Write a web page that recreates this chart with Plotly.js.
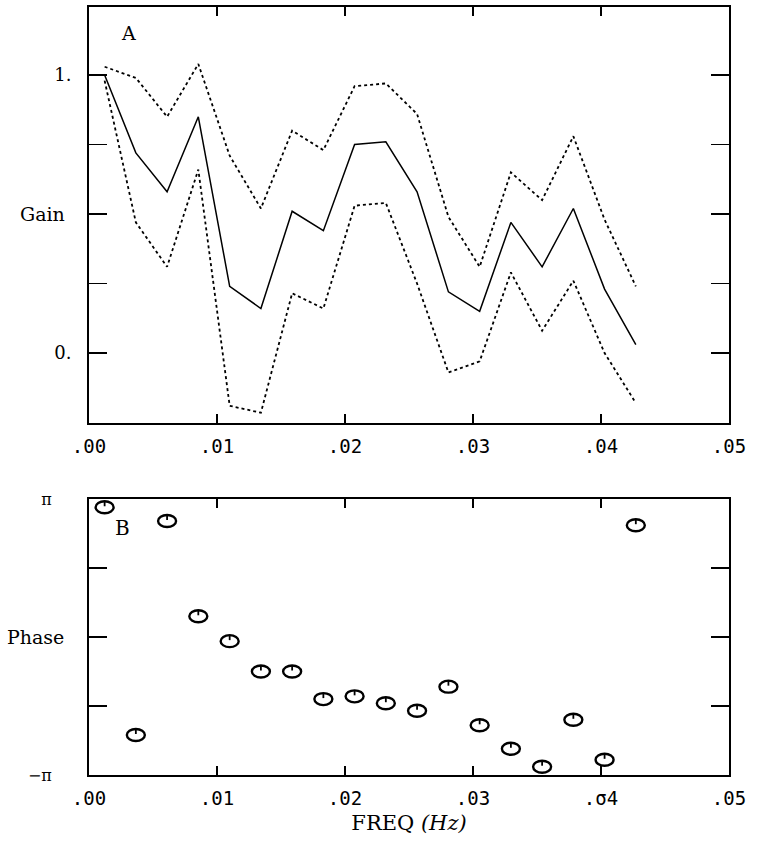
<!DOCTYPE html>
<html>
<head>
<meta charset="utf-8">
<script src="https://cdn.plot.ly/plotly-3.0.1.min.js"></script>
<style>html,body{margin:0;padding:0;background:#fff;}#chart{width:759px;height:844px;}</style>
</head>
<body>
<div id="chart"></div>
<script>
// Frequencies (Hz)
var freq = [0.00122, 0.00366, 0.00610, 0.00854, 0.01099, 0.01343, 0.01587, 0.01831, 0.02075,
            0.02319, 0.02563, 0.02808, 0.03052, 0.03296, 0.03540, 0.03784, 0.04028, 0.04272];
// Gain estimate and confidence bounds
var gain      = [1.00, 0.72, 0.58, 0.85, 0.24, 0.16, 0.51, 0.44, 0.75, 0.76, 0.58, 0.22, 0.15, 0.47, 0.31, 0.52, 0.23, 0.03];
var gainUpper = [1.03, 0.99, 0.85, 1.04, 0.71, 0.52, 0.80, 0.73, 0.96, 0.97, 0.86, 0.49, 0.31, 0.65, 0.55, 0.78, 0.48, 0.24];
var gainLower = [0.98, 0.47, 0.31, 0.66, -0.19, -0.215, 0.215, 0.16, 0.53, 0.54, 0.25, -0.07, -0.03, 0.29, 0.08, 0.26, 0.00, -0.18];
// Phase in units of pi
var phasePi = [0.94, -0.71, 0.84, 0.15, -0.03, -0.25, -0.25, -0.45, -0.43, -0.48, -0.535, -0.36, -0.64, -0.81, -0.94, -0.60, -0.89, 0.81];

var xTickVals = [0, 0.01, 0.02, 0.03, 0.04, 0.05];
var xTickTextA = ['.00', '.01', '.02', '.03', '.04', '.05'];
var xTickTextB = ['.00', '.01', '.02', '.03', '.σ4', '.05'];
var gainTickVals = [0, 0.25, 0.5, 0.75, 1];
var gainTickText = ['0.', '', '', '', '1.'];
var phaseTickText = ['−π', '', '', '', 'π'];

var PI = Math.PI;
var phase = phasePi.map(function (p) { return p * PI; });
var phaseTickVals = [-1, -0.5, 0, 0.5, 1].map(function (p) { return p * PI; });

var serif = 'DejaVu Serif, Liberation Serif, serif';
var mono = 'DejaVu Sans Mono, Liberation Mono, monospace';

var traces = [
  {x: freq, y: gainUpper, xaxis: 'x', yaxis: 'y', mode: 'lines', line: {color: '#000', width: 1.8, dash: 'dot'}},
  {x: freq, y: gain, xaxis: 'x', yaxis: 'y', mode: 'lines', line: {color: '#000', width: 1.5}},
  {x: freq, y: gainLower, xaxis: 'x', yaxis: 'y', mode: 'lines', line: {color: '#000', width: 1.8, dash: 'dot'}},
  {x: freq, y: phase, xaxis: 'x2', yaxis: 'y2', mode: 'markers', marker: {size: 16, color: 'rgba(0,0,0,0)'}}
];

// ellipse markers with a short tick, anchored at data points
var shapes = [];
freq.forEach(function (f, i) {
  shapes.push({type: 'circle', xref: 'x2', yref: 'y2', xsizemode: 'pixel', ysizemode: 'pixel',
    xanchor: f, yanchor: phase[i], x0: -9, x1: 9, y0: -6, y1: 6,
    line: {color: '#000', width: 2.4}});
  shapes.push({type: 'line', xref: 'x2', yref: 'y2', xsizemode: 'pixel', ysizemode: 'pixel',
    xanchor: f, yanchor: phase[i], x0: 0, x1: 0, y0: 6, y1: 1,
    line: {color: '#000', width: 1.8}});
});

function xAxis(anchor, text) {
  return {
    anchor: anchor, domain: [0, 1], range: [0, 0.05],
    tickmode: 'array', tickvals: xTickVals, ticktext: text,
    ticks: 'inside', ticklen: 9, tickwidth: 1.6, tickcolor: '#000',
    showline: true, linecolor: '#000', linewidth: 2, mirror: 'ticks',
    showgrid: false, zeroline: false, ticklabelstandoff: 5,
    tickfont: {family: mono, size: 19, color: '#000'}
  };
}

var layout = {
  width: 759, height: 844,
  margin: {l: 89, r: 30, t: 7, b: 69},
  paper_bgcolor: '#fff', plot_bgcolor: '#fff',
  showlegend: false,
  xaxis: xAxis('y', xTickTextA),
  xaxis2: Object.assign(xAxis('y2', xTickTextB), {
    title: {text: 'FREQ <i>(Hz)</i>', font: {family: serif, size: 21, color: '#000'}, standoff: 8}
  }),
  yaxis: {
    domain: [0.4583, 1], range: [-0.252, 1.245],
    tickmode: 'array', tickvals: gainTickVals, ticktext: gainTickText,
    ticks: 'inside', ticklen: 18, tickwidth: 1.6, tickcolor: '#000',
    showline: true, linecolor: '#000', linewidth: 2, mirror: 'ticks',
    showgrid: false, zeroline: false, ticklabelstandoff: 12,
    tickfont: {family: serif, size: 18, color: '#000'}
  },
  yaxis2: {
    domain: [0, 0.3594], range: [-PI, PI],
    tickmode: 'array', tickvals: phaseTickVals, ticktext: phaseTickText,
    ticks: 'inside', ticklen: 18, tickwidth: 1.6, tickcolor: '#000',
    showline: true, linecolor: '#000', linewidth: 2, mirror: 'ticks',
    showgrid: false, zeroline: false, ticklabelstandoff: 32,
    tickfont: {family: serif, size: 16, color: '#000'}
  },
  shapes: shapes,
  annotations: [
    {text: 'Gain', xref: 'paper', yref: 'y', x: -0.073, y: 0.5, xanchor: 'center', yanchor: 'middle',
     showarrow: false, font: {family: serif, size: 19, color: '#000'}},
    {text: 'Phase', xref: 'paper', yref: 'y2', x: -0.083, y: 0, xanchor: 'center', yanchor: 'middle',
     showarrow: false, font: {family: serif, size: 19, color: '#000'}},
    {text: 'A', xref: 'paper', yref: 'paper', x: 0.061, y: 0.966, xanchor: 'center', yanchor: 'middle',
     showarrow: false, font: {family: serif, size: 19, color: '#000'}},
    {text: 'B', xref: 'paper', yref: 'paper', x: 0.053, y: 0.3216, xanchor: 'center', yanchor: 'middle',
     showarrow: false, font: {family: serif, size: 20, color: '#000'}}
  ]
};

Plotly.newPlot('chart', traces, layout, {displayModeBar: false, staticPlot: true});
</script>
</body>
</html>
